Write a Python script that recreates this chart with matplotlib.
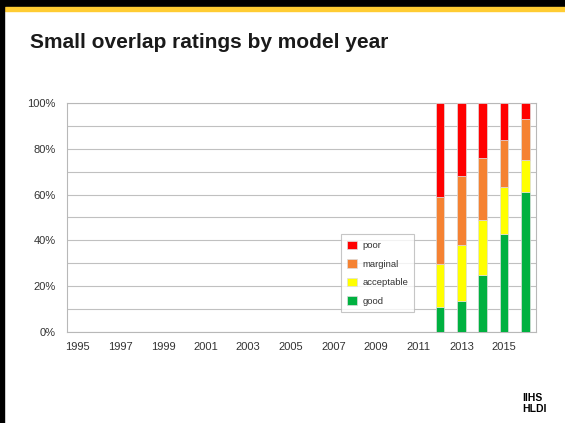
import numpy as np
import matplotlib.pyplot as plt
from matplotlib.patches import Rectangle

years = list(range(1995, 2017))
rated_years = [2012, 2013, 2014, 2015, 2016]
good = [11, 13.5, 25, 43, 61]
acceptable = [18.5, 24.5, 24, 20.5, 14]
marginal = [29.5, 30, 27, 20.5, 18]
poor = [41, 32, 24, 16, 7]

series = [("good", good, "#00b140"), ("acceptable", acceptable, "#ffff00"),
          ("marginal", marginal, "#f58232"), ("poor", poor, "#ff0000")]

plt.rcParams['font.family'] = ['Liberation Sans', 'DejaVu Sans']

fig = plt.figure(figsize=(5.65, 4.23), dpi=100)

# slide frame: black border and yellow line
fig.patches.append(Rectangle((0, 1 - 7 / 423), 1, 7 / 423, transform=fig.transFigure, color='black'))
fig.patches.append(Rectangle((5 / 565, 1 - 11 / 423), 1, 4 / 423, transform=fig.transFigure, color='#ffcc33'))
fig.patches.append(Rectangle((0, 0), 4 / 565, 1, transform=fig.transFigure, color='black'))

fig.text(30 / 565, 1 - 42 / 423, "Small overlap ratings by model year", fontsize=15, fontweight='bold',
         color='#1a1a1a', va='center', ha='left')

ax = fig.add_axes([67 / 565, 1 - 332 / 423, 469 / 565, 229 / 423])
x = np.arange(len(years))
idx = [years.index(y) for y in rated_years]
bottom = np.zeros(len(rated_years))
for name, vals, col in series:
    ax.bar(x[idx], vals, width=0.4, bottom=bottom, color=col, edgecolor='#dddddd', linewidth=0.5,
           label=name, zorder=3)
    bottom += np.array(vals)

ax.set_xlim(-0.5, len(years) - 0.5)
ax.set_ylim(0, 100)
ax.set_yticks(range(0, 101, 10))
ax.set_yticklabels([f"{v}%" if v % 20 == 0 else "" for v in range(0, 101, 10)])
ax.set_xticks(x[::2])
ax.set_xticklabels([str(y) for y in years[::2]])
ax.grid(axis='y', color='#c0c0c0', linewidth=0.8, zorder=0)
ax.tick_params(length=0, labelsize=8, colors='#333333')
ax.tick_params(axis='x', pad=7)
ax.tick_params(axis='y', pad=8)
for s in ax.spines.values():
    s.set_color('#b8b8b8')

h, l = ax.get_legend_handles_labels()
leg = ax.legend(h[::-1], l[::-1], loc='lower left', bbox_to_anchor=(269 / 469, 15 / 229, 83 / 469, 83 / 229),
                mode='expand', fontsize=6.8, frameon=True, fancybox=False, handlelength=1.0, handleheight=1.0,
                handletextpad=0.6, labelspacing=0.95, borderpad=0.7, labelcolor='#333333')
leg.get_frame().set_edgecolor('#b8b8b8')
leg.get_frame().set_linewidth(0.8)

# logo
fig.text(522 / 565, 1 - 398 / 423, "IIHS", fontsize=7.5, fontweight='bold', ha='left', va='center')
fig.text(522 / 565, 1 - 409 / 423, "HLDI", fontsize=7.5, fontweight='bold', ha='left', va='center')

fig.savefig("out.png", dpi=100)
